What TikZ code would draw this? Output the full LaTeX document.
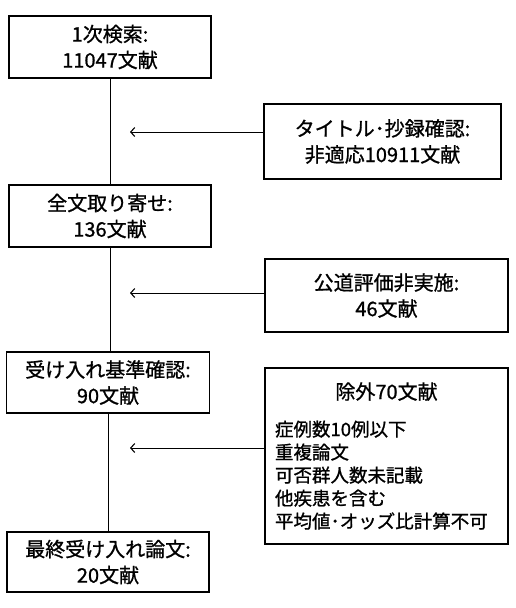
\documentclass[tikz,border=0pt]{standalone}
\usepackage{fontspec}
\usetikzlibrary{arrows.meta}
\newfontfamily\jpfont[RawFeature={embolden=1}]{Noto Sans CJK JP}
\begin{document}
\begin{tikzpicture}[x=1pt, y=-1pt,
    stepbox/.style={draw=black, line width=1.6pt, align=center, inner sep=0pt,
        font=\jpfont\fontsize{20}{26}\selectfont},
    link/.style={line width=1pt},
    pointer/.style={link, -{Straight Barb[length=4pt, width=9pt, line width=1.1pt]}}]
    \useasboundingbox (0,0) rectangle (516,608);
    % main flow
    \node[stepbox, minimum width=202pt, minimum height=62pt] (search) at (110,47) {1次検索:\\11047文献};
    \node[stepbox, minimum width=202pt, minimum height=62pt] (fulltext) at (110,216) {全文取り寄せ:\\136文献};
    \node[stepbox, minimum width=203pt, minimum height=61pt] (criteria) at (108,382.5) {受け入れ基準確認:\\90文献};
    \node[stepbox, minimum width=202pt, minimum height=60pt] (final) at (108,562) {最終受け入れ論文:\\20文献};
    % excluded
    \node[stepbox, minimum width=237pt, minimum height=75pt] (screen) at (382.5,141.5) {タイトル･抄録確認:\\非適応10911文献};
    \node[stepbox, minimum width=243pt, minimum height=73pt] (review) at (386.5,295.5) {公道評価非実施:\\46文献};
    \node[stepbox, minimum width=243pt, minimum height=176pt, text width=223pt, align=left,
        font=\jpfont\fontsize{18.5}{23}\selectfont] (exclude) at (386.5,456)
        {{\centering\fontsize{20}{26}\selectfont 除外70文献\par}\vspace{14pt}
        症例数10例以下\\重複論文\\可否群人数未記載\\他疾患を含む\\平均値･オッズ比計算不可};
    \draw[link] (search.south) -- (fulltext.north);
    \draw[link] (fulltext.south) -- (criteria.north -| fulltext.south);
    \draw[link] (criteria.south) -- (final.north);
    \coordinate (tip1) at (130,132);
    \coordinate (tip2) at (130,293);
    \coordinate (tip3) at (130,448);
    \draw[pointer] (screen.west |- tip1) -- (tip1);
    \draw[pointer] (review.west |- tip2) -- (tip2);
    \draw[pointer] (exclude.west |- tip3) -- (tip3);
\end{tikzpicture}
\end{document}
